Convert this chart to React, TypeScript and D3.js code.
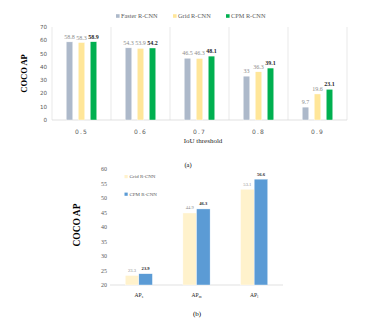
import React from "react";
import * as d3 from "d3";

const thresholds = ["0.5", "0.6", "0.7", "0.8", "0.9"];
const topSeries = ["Faster R-CNN", "Grid R-CNN", "CPM R-CNN"];
const fasterAP = [58.8, 54.3, 46.5, 33, 9.7];
const gridAP = [58.3, 53.9, 46.3, 36.3, 19.6];
const cpmAP = [58.9, 54.2, 48.1, 39.1, 23.1];
const topTicks = [0, 10, 20, 30, 40, 50, 60, 70];

const sizeCats = ["s", "m", "l"];
const bottomSeries = ["Grid R-CNN", "CPM R-CNN"];
const gridSize = [23.3, 44.9, 53.1];
const cpmSize = [23.9, 46.3, 56.6];
const bottomTicks = [20, 25, 30, 35, 40, 45, 50, 55, 60];

const topColors = ["#adb9ca", "#ffe699", "#00b050"];
const bottomColors = ["#fff2cc", "#5b9bd5"];
const serif = "'Liberation Serif', 'Times New Roman', serif";
const sans = "'DejaVu Sans', sans-serif";

export default function App() {
  const W = 374, H = 327;
  // top chart
  const tx = d3.scaleBand().domain(thresholds).range([52, 347]);
  const ty = d3.scaleLinear().domain([0, 70]).range([120, 27]);
  const topData = [fasterAP, gridAP, cpmAP];
  const barW = 6.6;
  const offsets = [-12, 0, 12];

  // bottom chart
  const bx = d3.scaleBand().domain(sizeCats).range([110, 283]);
  const by = d3.scaleLinear().domain([20, 60]).range([285, 169.3]);
  const bottomData = [gridSize, cpmSize];
  const bW = 13.6;

  return (
    <svg width={W} height={H} style={{ position: "absolute", left: 0, top: 0, background: "#fff" }}>
      {/* ---------- top chart ---------- */}
      {/* legend */}
      {topSeries.map((s, i) => {
        const x = [116, 173, 226][i];
        return (
          <g key={s}>
            <rect x={x} y={14.2} width={3.6} height={3.6} fill={topColors[i]} />
            <text x={x + 5} y={18.4} fontFamily={serif} fontSize={6.3} fill="#595959">{s}</text>
          </g>
        );
      })}
      {/* separators */}
      {thresholds.map((t) => (
        <line key={t} x1={tx(t)!} x2={tx(t)!} y1={27} y2={120} stroke="#e3e3e3" strokeWidth={0.8} />
      ))}
      <line x1={347} x2={347} y1={27} y2={120} stroke="#e3e3e3" strokeWidth={0.8} />
      <line x1={52} x2={347} y1={120} y2={120} stroke="#d9d9d9" strokeWidth={0.8} />
      {/* y ticks */}
      {topTicks.map((v) => (
        <text key={v} x={47} y={ty(v) + 2} textAnchor="end" fontFamily={sans} fontSize={5.6} fill="#595959">{v}</text>
      ))}
      {/* bars */}
      {topData.map((arr, si) =>
        arr.map((v, i) => {
          const cx = tx(thresholds[i])! + tx.bandwidth() / 2 + offsets[si];
          return (
            <g key={si + "-" + i}>
              <rect x={cx - barW / 2} y={ty(v)} width={barW} height={ty(0) - ty(v)} fill={topColors[si]} stroke="#fff" strokeWidth={0.4} />
            </g>
          );
        })
      )}
      {/* value labels */}
      {topData.map((arr, si) =>
        arr.map((v, i) => {
          const cx = tx(thresholds[i])! + tx.bandwidth() / 2 + offsets[si];
          return (
            <text key={"l" + si + "-" + i} x={cx} y={ty(v) - 3} textAnchor="middle" fontFamily={serif} fontSize={6}
              fill={si === 2 ? "#262626" : "#8c8c8c"} fontWeight={si === 2 ? "bold" : "normal"}>{v}</text>
          );
        })
      )}
      {/* x ticks */}
      {thresholds.map((t) => (
        <text key={"x" + t} x={tx(t)! + tx.bandwidth() / 2} y={133.5} textAnchor="middle" fontFamily={sans} fontSize={6} letterSpacing={1.2} fill="#595959">{t}</text>
      ))}
      <text x={203} y={143} textAnchor="middle" fontFamily={serif} fontSize={7} fill="#262626">IoU threshold</text>
      <text transform="translate(27,73.5) rotate(-90)" textAnchor="middle" fontFamily={serif} fontSize={8.5} fontWeight="bold" fill="#000">COCO AP</text>
      <text x={188} y={166.5} textAnchor="middle" fontFamily={serif} fontSize={6.5} fill="#000">(a)</text>

      {/* ---------- bottom chart ---------- */}
      <line x1={110} x2={283} y1={285} y2={285} stroke="#d9d9d9" strokeWidth={0.8} />
      {bottomTicks.map((v) => (
        <text key={"b" + v} x={107} y={by(v) + 2} textAnchor="end" fontFamily={serif} fontSize={6} fill="#595959">{v}</text>
      ))}
      {bottomData.map((arr, si) =>
        arr.map((v, i) => {
          const c = bx(sizeCats[i])! + bx.bandwidth() / 2;
          const x = si === 0 ? c - bW : c;
          return (
            <g key={"bb" + si + i}>
              <rect x={x} y={by(v)} width={bW} height={by(20) - by(v)} fill={bottomColors[si]} stroke="#fff" strokeWidth={0.4} />
              <text x={x + bW / 2} y={by(v) - 3.5} textAnchor="middle" fontFamily={serif} fontSize={4.6}
                fill={si === 1 ? "#262626" : "#8c8c8c"} fontWeight={si === 1 ? "bold" : "normal"}>{v}</text>
            </g>
          );
        })
      )}
      {bottomSeries.map((s, i) => {
        const y = [175, 192.6][i];
        return (
          <g key={"bl" + s}>
            <rect x={124.5} y={y} width={3.2} height={3.2} fill={bottomColors[i]} />
            <text x={129.5} y={y + 3.2} fontFamily={serif} fontSize={5} fill="#595959">{s}</text>
          </g>
        );
      })}
      {sizeCats.map((c) => (
        <text key={"bx" + c} x={bx(c)! + bx.bandwidth() / 2} y={297} textAnchor="middle" fontFamily={serif} fontSize={5.6} fill="#262626">
          AP<tspan fontSize={3.6} dy={1.4}>{c}</tspan>
        </text>
      ))}
      <text transform="translate(80,225) rotate(-90)" textAnchor="middle" fontFamily={serif} fontSize={9.5} fontWeight="bold" fill="#000">COCO AP</text>
      <text x={197} y={316} textAnchor="middle" fontFamily={serif} fontSize={7} fill="#000">(b)</text>
    </svg>
  );
}
